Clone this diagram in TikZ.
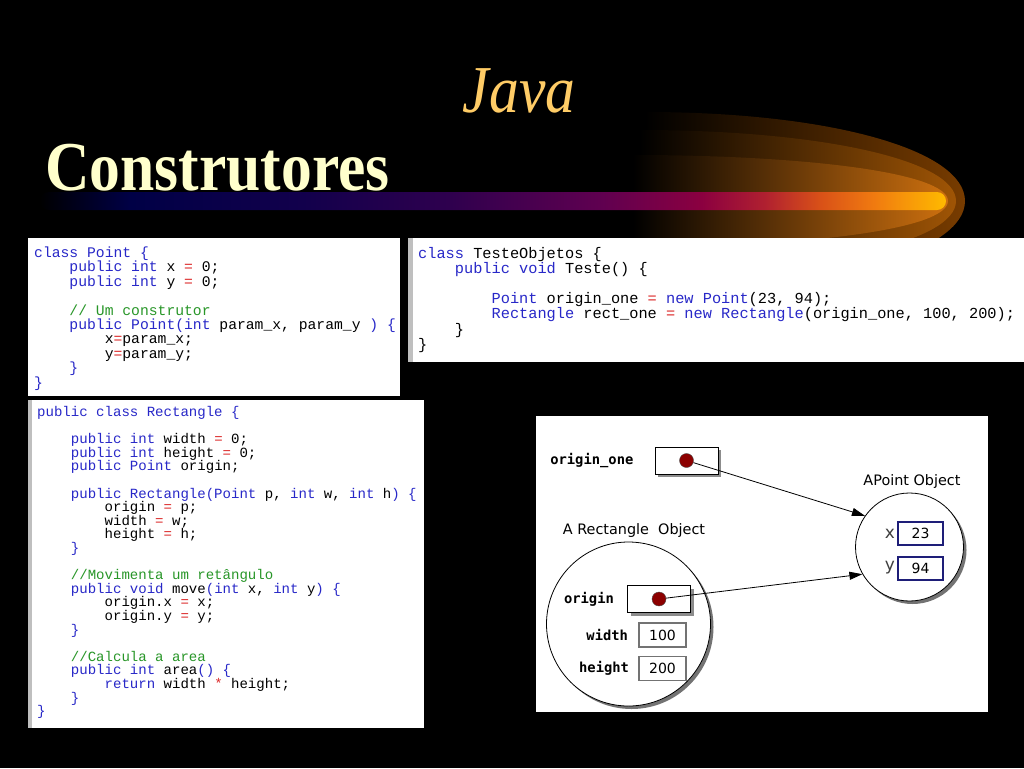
\documentclass[tikz,border=0pt]{standalone}
\usepackage{fontspec}
\setmainfont{Liberation Serif}
\setmonofont{Liberation Mono}
\newfontfamily\diagfont{DejaVu Sans}
\newfontfamily\diagmono{DejaVu Sans Mono}
\usetikzlibrary{positioning}
\usetikzlibrary{arrows.meta}
\usetikzlibrary{shadows}
\definecolor{kwblue}{RGB}{40,40,200}
\definecolor{opred}{RGB}{220,40,40}
\definecolor{cmgreen}{RGB}{40,150,40}
\definecolor{javaclr}{RGB}{255,204,102}
\definecolor{titleclr}{RGB}{255,255,204}
\definecolor{haloA}{RGB}{120,60,0}
\definecolor{haloB}{RGB}{160,85,5}
\definecolor{haloC}{RGB}{205,112,15}
\definecolor{barA}{RGB}{0,0,70}
\definecolor{barB}{RGB}{18,0,76}
\definecolor{barC}{RGB}{46,0,78}
\definecolor{barD}{RGB}{96,0,80}
\definecolor{barE}{RGB}{139,0,64}
\definecolor{barF}{RGB}{176,32,48}
\definecolor{barG}{RGB}{216,80,24}
\definecolor{barH}{RGB}{240,122,16}
\definecolor{barI}{RGB}{255,186,0}
\definecolor{dotred}{RGB}{140,0,0}
\definecolor{ptblue}{RGB}{30,30,120}
\pgfdeclarehorizontalshading{barshade}{100bp}{color(0bp)=(black); color(25bp)=(black);
  color(30bp)=(barA); color(39.5bp)=(barB); color(47.5bp)=(barC); color(56bp)=(barD);
  color(61.5bp)=(barE); color(65bp)=(barF); color(68bp)=(barG); color(71bp)=(barH);
  color(75bp)=(barI); color(100bp)=(barI)}
\newcommand{\kw}[1]{\textcolor{kwblue}{#1}}
\newcommand{\op}[1]{\textcolor{opred}{#1}}
\newcommand{\cm}[1]{\textcolor{cmgreen}{#1}}
\newcommand{\ind}{\phantom{0000}}

\begin{document}
\begin{tikzpicture}[x=1pt, y=-1pt,
        pcode/.style={anchor=base west, inner sep=0pt, font=\ttfamily\fontsize{14.7}{15}\selectfont},
        tcode/.style={anchor=base west, inner sep=0pt, font=\ttfamily\fontsize{15.3}{16}\selectfont},
        rcode/.style={anchor=base west, inner sep=0pt, font=\ttfamily\fontsize{14.05}{15}\selectfont},
        objcircle/.style={draw, circle, fill=white, line width=.8pt,
            drop shadow={shadow xshift=3pt, shadow yshift=-3pt, fill=black!55, opacity=1}},
        objtitle/.style={inner sep=1pt, font=\diagfont\fontsize{14.4}{15}\selectfont},
        refbox/.style={draw, fill=white, line width=.8pt, minimum width=63pt, minimum height=27pt,
            drop shadow={shadow xshift=3pt, shadow yshift=-3pt, fill=black!45, opacity=1}},
        dot/.style={draw=black!70, circle, fill=dotred, minimum size=14pt, inner sep=0pt},
        ptbox/.style={draw=ptblue, line width=2pt, minimum width=45pt, minimum height=23pt,
            inner sep=0pt, font=\diagfont\fontsize{14}{15}\selectfont},
        valbox/.style={draw=black!55, line width=1.6pt, minimum width=47pt, minimum height=24pt,
            inner sep=0pt, font=\diagfont\fontsize{14}{15}\selectfont},
        varlbl/.style={inner sep=1pt, font=\diagmono\bfseries\fontsize{13.8}{14}\selectfont},
        coordlbl/.style={inner sep=1pt, text=black!75, font=\diagfont\fontsize{17}{18}\selectfont},
        ptr/.style={-{Triangle[length=13pt,width=8pt]}, line width=.8pt}]
    \fill[black] (0,0) rectangle (1024,768);
    \useasboundingbox (0,0) rectangle (1024,768);

    % halo and bar
    \shade[left color=black, right color=haloA] (645,112) .. controls (830,112) and (965,150) .. (965,201)
        .. controls (965,252) and (830,290) .. (645,290) -- cycle;
    \shade[left color=black, right color=haloB] (640,130) .. controls (820,130) and (956,160) .. (956,201)
        .. controls (956,242) and (820,272) .. (640,272) -- cycle;
    \shade[left color=black, right color=haloC] (633,155) .. controls (800,155) and (948,172) .. (948,201)
        .. controls (948,230) and (800,247) .. (633,247) -- cycle;
    \shade[shading=barshade, rounded corners=9pt] (40,192) rectangle (946,210);

    \node[anchor=base, inner sep=0pt, xscale=.89, text=javaclr,
        font=\fontsize{67}{67}\selectfont\itshape] (java) at (519,112) {Java};
    \node[anchor=base west, inner sep=0pt, xscale=.88, text=titleclr,
        font=\fontsize{70}{70}\selectfont\bfseries] (constr) at (45,190) {Construtores};

    % code
    \fill[white] (28,238) rectangle (400,396);
    \fill[white] (408,238) rectangle (1024,362);
    \fill[black!25] (408,238) rectangle (413,362);
    \fill[white] (28,400) rectangle (424,728);
    \fill[black!25] (28,400) rectangle (32,728);

    \foreach \l [count=\i from 0] in {{\kw{class Point \{}},
            {\ind\kw{public int} x \op{=} 0;},
            {\ind\kw{public int} y \op{=} 0;},
            {},
            {\ind\cm{// Um construtor}},
            {\ind\kw{public Point(int} param\_x, param\_y \kw{) \{}},
            {\ind\ind x\op{=}param\_x;},
            {\ind\ind y\op{=}param\_y;},
            {\ind\kw{\}}},
            {\kw{\}}}}
        \node[pcode] (pl\i) at (34,{257.5+14.4*\i}) {\l};

    \foreach \l [count=\i from 0] in {{\kw{class} TesteObjetos \{},
            {\ind\kw{public void} Teste() \{},
            {},
            {\ind\ind\kw{Point} origin\_one \op{=} \kw{new Point}(23, 94);},
            {\ind\ind\kw{Rectangle} rect\_one \op{=} \kw{new Rectangle}(origin\_one, 100, 200);},
            {\ind\}},
            {\}}}
        \node[tcode] (tl\i) at (418,{258.5+15.1*\i}) {\l};

    \foreach \l [count=\i from 0] in {{\kw{public class Rectangle \{}},
            {},
            {\ind\kw{public int} width \op{=} 0;},
            {\ind\kw{public int} height \op{=} 0;},
            {\ind\kw{public Point} origin;},
            {},
            {\ind\kw{public Rectangle(Point} p, \kw{int} w, \kw{int} h\kw{) \{}},
            {\ind\ind origin \op{=} p;},
            {\ind\ind width \op{=} w;},
            {\ind\ind height \op{=} h;},
            {\ind\kw{\}}},
            {},
            {\ind\cm{//Movimenta um retângulo}},
            {\ind\kw{public void} move\kw{(int} x, \kw{int} y\kw{) \{}},
            {\ind\ind origin.x \op{=} x;},
            {\ind\ind origin.y \op{=} y;},
            {\ind\kw{\}}},
            {},
            {\ind\cm{//Calcula a area}},
            {\ind\kw{public int} area\kw{() \{}},
            {\ind\ind\kw{return} width \op{*} height;},
            {\ind\kw{\}}},
            {\kw{\}}}}
        \node[rcode] (rl\i) at (37,{416.5+13.6*\i}) {\l};

    % objects
    \fill[white] (536,416) rectangle (988,712);
    \node[objcircle, minimum size=108pt] (pt) at (909.5,547) {};
    \node[objcircle, minimum size=164pt] (rect) at (628.5,624) {};
    \node[objtitle] (pttitle) at (912,482) {APoint Object};
    \node[objtitle] (recttitle) at (634,531) {A Rectangle\ \ Object};
    \node[ptbox] (xbox) at (920.5,533.5) {23};
    \node[ptbox] (ybox) at (920.5,568) {94};
    \node[coordlbl, left=1pt of xbox] (xlbl) {x};
    \node[coordlbl, left=1pt of ybox] (ylbl) {y};
    \node[refbox] (onebox) at (686.5,460.5) {};
    \node[varlbl, left=20pt of onebox] (onelbl) {origin\_one};
    \node[dot] (onedot) at (onebox.center) {};
    \node[refbox] (orgbox) at (659,599) {};
    \node[varlbl, left=12pt of orgbox] (orglbl) {origin};
    \node[dot] (orgdot) at (orgbox.center) {};
    \node[valbox] (wbox) at (662.5,635) {100};
    \node[valbox] (hbox) at (662.5,668.5) {200};
    \node[varlbl, left=9pt of wbox] (wlbl) {width};
    \node[varlbl, left=8pt of hbox] (hlbl) {height};
    \draw[ptr] (onedot) -- (pt.145);
    \draw[ptr] (orgdot) -- (pt.210);
\end{tikzpicture}
\end{document}
